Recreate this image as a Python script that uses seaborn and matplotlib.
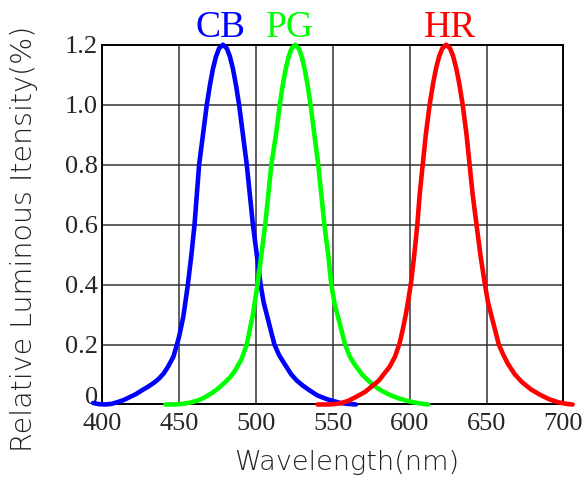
import numpy as np
import pandas as pd
import matplotlib
matplotlib.use("Agg")
import matplotlib.pyplot as plt
import matplotlib.transforms as mtransforms
import seaborn as sns

# wavelength (nm) / relative intensity
cb_wl = [394, 398, 402, 406, 410, 414, 418, 422, 426, 430, 434, 437, 440, 443, 446.3, 448,
         450, 452.7, 455.5, 458, 460, 461.5, 463, 465.5, 468, 470, 472, 474, 476, 478.5,
         481, 483, 485, 487, 489, 491.5, 494, 496, 498, 500.5, 503, 505, 507, 509.5,
         512, 515, 518, 520.5, 523, 526.5, 530, 534, 537, 540, 543, 546, 550, 555, 560, 565]
cb_val = [0.005, 0.001, 0.0, 0.002, 0.008, 0.015, 0.025, 0.035, 0.048, 0.06, 0.074, 0.087,
          0.104, 0.128, 0.16, 0.19, 0.227, 0.293, 0.393, 0.50, 0.60, 0.70, 0.80, 0.90, 1.00,
          1.065, 1.12, 1.161, 1.188, 1.20, 1.188, 1.161, 1.12, 1.065, 1.00, 0.90,
          0.80, 0.70, 0.60, 0.50, 0.40, 0.34, 0.30, 0.25, 0.20, 0.165, 0.14, 0.12, 0.10,
          0.08, 0.065, 0.05, 0.04, 0.03, 0.024, 0.018, 0.012, 0.005, 0.002, 0.0]

pg_wl = [441, 447, 452, 457, 462, 466, 471, 475, 479, 483, 486, 490.5, 494, 496, 498, 501,
         503.5, 506, 508, 510, 513, 515.5, 517, 519, 521, 523, 525.5, 528, 530, 532, 534,
         535.5, 538, 540.5, 542.5, 544.5, 547, 549, 551, 553, 555.5, 558, 561, 564, 569,
         575, 581, 587, 593, 600, 606, 612]
pg_val = [0.0, 0.0, 0.002, 0.006, 0.013, 0.022, 0.037, 0.052, 0.07, 0.09, 0.11, 0.15, 0.20,
          0.25, 0.30, 0.40, 0.50, 0.60, 0.70, 0.80, 0.90, 1.00, 1.052, 1.111, 1.156, 1.186,
          1.20, 1.186, 1.156, 1.111, 1.052, 1.00, 0.90, 0.80, 0.70, 0.60, 0.50, 0.40, 0.34,
          0.30, 0.25, 0.20, 0.16, 0.135, 0.10, 0.07, 0.048, 0.032, 0.02, 0.01, 0.004, 0.0]

hr_wl = [540, 548, 555, 560, 565, 571, 576, 580, 583, 587, 590.5, 593.5, 595.5, 597.5, 599,
         601, 603, 605, 606.5, 608.5, 610.5, 613, 615.25, 617.25, 619.25, 621.25, 623.75,
         626.25, 628.25, 630.25, 632.25, 634.5, 637, 639, 641, 643.5, 646, 649, 651, 653,
         655.5, 658, 661, 664, 668.5, 673, 679, 685, 691, 697, 702, 706]
hr_val = [0.0, 0.0, 0.004, 0.012, 0.025, 0.042, 0.063, 0.08, 0.10, 0.126, 0.16, 0.205,
          0.25, 0.30, 0.345, 0.41, 0.50, 0.60, 0.70, 0.80, 0.90, 1.00, 1.071, 1.123, 1.162,
          1.188, 1.20, 1.188, 1.162, 1.123, 1.071, 1.00, 0.90, 0.80, 0.70, 0.60, 0.50,
          0.40, 0.34, 0.30, 0.25, 0.20, 0.165, 0.135, 0.10, 0.075, 0.05, 0.032, 0.017,
          0.007, 0.002, 0.0]

names = ["CB", "PG", "HR"]
colors = ["#0000ff", "#00ff00", "#ff0000"]
peaks = [477, 522, 626]

x_ticks = [400, 450, 500, 550, 600, 650, 700]
y_ticks = [0, 0.2, 0.4, 0.6, 0.8, 1.0, 1.2]
y_labels = ["0", "0.2", "0.4", "0.6", "0.8", "1.0", "1.2"]

df = pd.concat([
    pd.DataFrame({"wl": cb_wl, "val": cb_val, "led": "CB"}),
    pd.DataFrame({"wl": pg_wl, "val": pg_val, "led": "PG"}),
    pd.DataFrame({"wl": hr_wl, "val": hr_val, "led": "HR"}),
])

sns.set_style("white")
serif = ["Liberation Serif", "DejaVu Serif"]

fig = plt.figure(figsize=(5.87, 4.84), dpi=100)
ax = fig.add_axes([0.1743, 0.1643, 0.9597 - 0.1743, 0.9076 - 0.1643])

sns.lineplot(data=df, x="wl", y="val", hue="led", hue_order=names,
             palette=colors, linewidth=3.3, legend=False, sort=True,
             clip_on=False, zorder=3, ax=ax)

ax.set_xlim(400, 700)
ax.set_ylim(0, 1.2)
ax.set_xticks(x_ticks)
ax.set_xticklabels([str(t) for t in x_ticks], fontfamily=serif, fontsize=19)
ax.set_yticks(y_ticks)
ax.set_yticklabels(y_labels, fontfamily=serif, fontsize=19)
ax.tick_params(axis="both", length=0)
ax.tick_params(axis="x", pad=6)
ax.tick_params(axis="y", pad=3)

# the "0" label sits a bit above the baseline in the original
lab0 = ax.get_yticklabels()[0]
lab0.set_transform(lab0.get_transform() +
                   mtransforms.ScaledTranslation(0, 0.09, fig.dpi_scale_trans))

ax.grid(True, color="#333333", linewidth=1.1)
for s in ax.spines.values():
    s.set_color("black")
    s.set_linewidth(1.4)

ax.set_xlabel("Wavelength(nm)", fontsize=19.5, fontweight=200,
              fontfamily=["DejaVu Sans"], color="#222222")
ax.set_ylabel("Relative Luminous Itensity(%)", fontsize=20.5, fontweight=200,
              fontfamily=["DejaVu Sans"], color="#222222")
ax.xaxis.set_label_coords(0.531, -0.126)
ax.yaxis.set_label_coords(-0.1395, 0.46)

for name, col, pk in zip(names, colors, peaks):
    ax.text(pk, 1.226, name, color=col, fontsize=27, fontfamily=serif,
            ha="center", va="baseline", clip_on=False)

fig.savefig("out.png", dpi=100)
plt.close()
